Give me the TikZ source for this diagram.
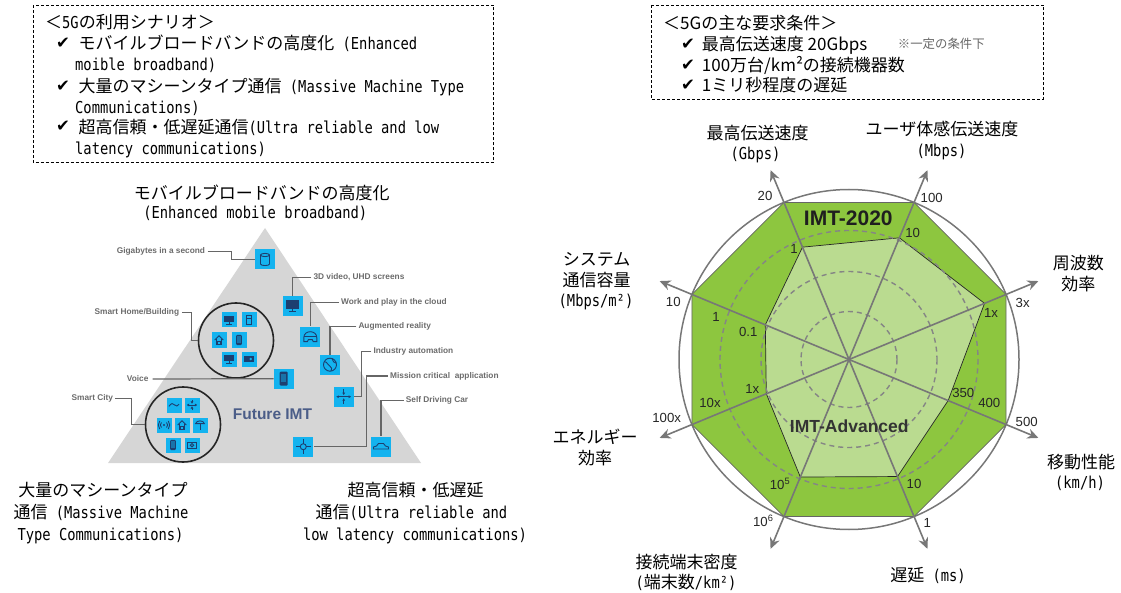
\documentclass[tikz,border=0pt]{standalone}
\usepackage{fontspec}
\setmainfont{Liberation Sans}
\newfontfamily\jpf{Noto Sans CJK JP}
\newfontfamily\monof[FakeStretch=0.84]{DejaVu Sans Mono}
\newfontfamily\symf{DejaVu Sans}
\usetikzlibrary{arrows.meta,calc}
\definecolor{gA}{HTML}{8DC63F}
\definecolor{gB}{HTML}{BADB90}
\definecolor{axg}{HTML}{777777}
\definecolor{cy}{HTML}{14B3EF}
\definecolor{nv}{HTML}{1D3F70}
\definecolor{tri}{HTML}{D6D6D6}
\definecolor{lblg}{HTML}{6B6B6B}
\definecolor{fimt}{HTML}{4B5D88}
\newcommand\JA{\jpf\fontsize{17}{20}\selectfont}
\newcommand\ML[1]{{\monof\fontsize{16.4}{20}\selectfont #1}}
\newcommand\CK{{\symf\fontsize{16.5}{20}\selectfont ✔}}
% icon glyphs
\newcommand\gDB{\draw[gl] (0,-4.5) ellipse[x radius=4.5,y radius=1.6]; \draw[gl] (-4.5,-4.5) -- (-4.5,4.5) .. controls (-4.5,6.6) and (4.5,6.6) .. (4.5,4.5) -- (4.5,-4.5);}
\newcommand\gMon{\fill[nv] (-6.5,-5.5) rectangle (6.5,3); \draw[gl] (0,3) -- (0,5.5) (-3.5,5.5) -- (3.5,5.5);}
\newcommand\gHelm{\draw[gl] (-6.5,5) -- (-6.5,1) .. controls (-6.5,-7) and (6.5,-7) .. (6.5,1) -- (6.5,5) -- (3,5) -- (2,3) -- (-2,3) -- (-3,5) -- cycle; \draw[gl] (-6.5,0) -- (6.5,0);}
\newcommand\gGlobe{\draw[gl] (0,0) circle[radius=6.5]; \draw[gl] (-5.5,-3) .. controls (-2,-3) and (-3,1) .. (0,1.5) .. controls (2,2) and (2,5) .. (1,6.3); \draw[gl] (2,-6) .. controls (2,-3) and (5,-2) .. (6.3,-1.5);}
\newcommand\gInd{\draw[gl,{Latex[length=2.5pt,width=3pt]}-{Latex[length=2.5pt,width=3pt]}] (-7.5,0) -- (7.5,0); \draw[gl,-{Latex[length=2.5pt,width=3pt]}] (0,-7.5) -- (0,-1.5); \draw[gl,-{Latex[length=2.5pt,width=3pt]}] (0,7.5) -- (0,1.5);}
\newcommand\gCross{\draw[gl] (0,0) circle[radius=3]; \draw[gl] (-7.5,0) -- (-3,0) (3,0) -- (7.5,0) (0,-7.5) -- (0,-3) (0,3) -- (0,7.5);}
\newcommand\gCar{\draw[gl] (-7.5,2.5) -- (-7.5,0.5) -- (-4.5,-0.5) -- (-2.5,-3) -- (2.5,-3) -- (4.5,-0.5) -- (7.5,0.5) -- (7.5,2.5) -- cycle;}
\newcommand\gPhone{\fill[nv,rounded corners=1pt] (-4,-7) rectangle (4,7); \fill[cy!45!nv] (-2.6,-5) rectangle (2.6,3.5);}
\newcommand\gFridge{\draw[gl] (-4,-6.5) rectangle (4,6.5); \draw[gl] (-4,-1.5) -- (4,-1.5);}
\newcommand\gHouse{\draw[gl] (-6,0) -- (0,-6) -- (6,0); \draw[gl] (-4,-1.5) -- (-4,5.5) -- (4,5.5) -- (4,-1.5); \draw[gl] (-1.5,5.5) -- (-1.5,1.5) -- (1.5,1.5) -- (1.5,5.5);}
\newcommand\gCard{\fill[nv] (-6.5,-4.5) rectangle (6.5,4.5); \fill[cy] (2.5,0) circle[radius=2];}
\newcommand\gWave{\draw[gl] (-7,2) .. controls (-4,-3) and (-1,-3) .. (1,0) .. controls (3,3) and (5,1) .. (7,-1);}
\newcommand\gRadio{\fill[nv] (0,0) circle[radius=1.6]; \draw[gl] (-3.5,-3.5) .. controls (-5.5,-1) and (-5.5,1) .. (-3.5,3.5); \draw[gl] (3.5,-3.5) .. controls (5.5,-1) and (5.5,1) .. (3.5,3.5); \draw[gl] (-6,-5.5) .. controls (-8.5,-2) and (-8.5,2) .. (-6,5.5); \draw[gl] (6,-5.5) .. controls (8.5,-2) and (8.5,2) .. (6,5.5);}
\newcommand\gLamp{\draw[gl] (0,-2) -- (0,7); \draw[gl] (-6,-2) .. controls (-5,-7) and (5,-7) .. (6,-2) -- cycle;}
\newcommand\gCam{\draw[gl] (-6,-4) rectangle (6,4.5); \draw[gl] (0,0.3) circle[radius=2.3];}
\newcommand\ico[3]{\begin{scope}[shift={(#1)},scale=#2]#3\end{scope}}
\begin{document}
\begin{tikzpicture}[x=1pt,y=-1pt,
  jt/.style={inner sep=0pt,font=\JA,text height=15pt,text depth=2pt},
  ck/.style={inner sep=0pt},
  dbox/.style={draw=black,line width=0.9pt,dash pattern=on 3pt off 2pt},
  note/.style={inner sep=0pt,text=black!60,font=\jpf\fontsize{12.4}{14}\selectfont},
  num/.style={inner sep=0pt,text=black!85,font=\fontsize{13.2}{14}\selectfont},
  axisarr/.style={draw=axg,line width=1.6pt,-{Stealth[length=11pt,width=10pt]}},
  dring/.style={draw=axg!90,line width=1.4pt,dash pattern=on 5pt off 4pt},
  icon/.style={fill=cy,minimum size=20pt,inner sep=0pt},
  sicon/.style={fill=cy,minimum size=15pt,inner sep=0pt},
  gl/.style={draw=nv,line width=0.9pt},
  lead/.style={draw=black!60,line width=1.2pt},
  ltxt/.style={inner sep=0pt,text=lblg,font=\bfseries\fontsize{8.3}{9}\selectfont},
  grp/.style={circle,draw=black!85,line width=1.6pt,minimum size=75pt,inner sep=0pt}
]
\useasboundingbox (0,0) rectangle (1121,593);
% ---------------- top boxes ----------------
\draw[dbox] (33.3,5) rectangle (493.3,162.7);
\node[jt,anchor=west] (s0) at (45,21.7) {＜\ML{5G}の利用シナリオ＞};
\node[ck] (c1) at (63,43.3) {\CK};
\node[jt,anchor=west] (s1) at (78.3,43.3) {モバイルブロードバンドの高度化\ML{ (Enhanced}};
\node[jt,anchor=west] (s2) at (75,64) {\ML{moible broadband)}};
\node[ck] (c2) at (63,86) {\CK};
\node[jt,anchor=west] (s3) at (78.3,86) {大量のマシーンタイプ通信\ML{ (Massive Machine Type}};
\node[jt,anchor=west] (s4) at (75,106.7) {\ML{Communications)}};
\node[ck] (c3) at (63,126.7) {\CK};
\node[jt,anchor=west] (s5) at (78.3,126.7) {超高信頼・低遅延通信\ML{(Ultra reliable and low}};
\node[jt,anchor=west] (s6) at (75,147.7) {\ML{latency communications)}};

\draw[dbox] (651.7,5) rectangle (1043.3,99.3);
\node[jt,anchor=west] (r0) at (663,22.7) {＜5Gの主な要求条件＞};
\node[ck] (rc1) at (688,44.3) {\CK};
\node[jt,anchor=west] (r1) at (701.7,44.3) {最高伝送速度 20Gbps};
\node[note] (r1n) at (941.3,44.3) {※一定の条件下};
\node[ck] (rc2) at (688,65) {\CK};
\node[jt,anchor=west] (r2) at (701.7,65) {100万台/km²の接続機器数};
\node[ck] (rc3) at (688,85) {\CK};
\node[jt,anchor=west] (r3) at (701.7,85) {1ミリ秒程度の遅延};

% ---------------- triangle ----------------
\node[jt] (tt1) at (261.7,192.7) {モバイルブロードバンドの高度化};
\node[jt] (tt2) at (255.3,211.7) {\ML{(Enhanced mobile broadband)}};
\fill[tri] (265,228) -- (421,463) -- (108,463) -- cycle;
\node[inner sep=0pt,text=fimt,font=\bfseries\fontsize{15.5}{16}\selectfont] (fimt) at (272.5,414.3) {Future IMT};

\node[grp] (hc) at (236,340.5) {};
\node[grp] (cc) at (183,424.5) {};

\node[icon] (igb) at (265,259.5) {};
\node[icon] (i3d) at (292.5,306) {};
\node[icon] (iwp) at (310.3,336.7) {};
\node[icon] (iar) at (330,364.7) {};
\node[icon] (iia) at (343.7,396.7) {};
\node[icon] (imc) at (303.3,446.7) {};
\node[icon] (isd) at (381,446.5) {};
\node[icon] (ivo) at (283.7,378.7) {};
\ico{igb}{1}{\gDB}
\ico{i3d}{1}{\gMon}
\ico{iwp}{1}{\gHelm}
\ico{iar}{1}{\gGlobe}
\ico{iia}{1}{\gInd}
\ico{imc}{1}{\gCross}
\ico{isd}{1}{\gCar}
\ico{ivo}{1}{\gPhone}

\node[sicon] (h1) at (229,320) {};
\node[sicon] (h2) at (249,320) {};
\node[sicon] (h3) at (219,340) {};
\node[sicon] (h4) at (239,340) {};
\node[sicon] (h5) at (229,359) {};
\node[sicon] (h6) at (249,359) {};
\ico{h1}{0.72}{\gMon}
\ico{h2}{0.72}{\gFridge}
\ico{h3}{0.72}{\gHouse}
\ico{h4}{0.72}{\gPhone}
\ico{h5}{0.72}{\gMon}
\ico{h6}{0.72}{\gCard}

\node[sicon] (k1) at (174,405) {};
\node[sicon] (k2) at (192,405) {};
\node[sicon] (k3) at (164,425) {};
\node[sicon] (k4) at (182,425) {};
\node[sicon] (k5) at (200,425) {};
\node[sicon] (k6) at (173,445) {};
\node[sicon] (k7) at (192,445) {};
\ico{k1}{0.72}{\gWave}
\ico{k2}{0.72}{\gInd}
\ico{k3}{0.72}{\gRadio}
\ico{k4}{0.72}{\gHouse}
\ico{k5}{0.72}{\gLamp}
\ico{k6}{0.72}{\gPhone}
\ico{k7}{0.72}{\gCam}

\node[ltxt,anchor=west] (lgb) at (116.7,251.7) {Gigabytes in a second};
\node[ltxt,anchor=west] (l3d) at (313.3,277.3) {3D video, UHD screens};
\node[ltxt,anchor=west] (lwp) at (341,302.3) {Work and play in the cloud};
\node[ltxt,anchor=west] (lar) at (358.3,326.7) {Augmented reality};
\node[ltxt,anchor=west] (lia) at (373.3,351.7) {Industry automation};
\node[ltxt,anchor=west] (lmc) at (390,376) {Mission critical\ \ application};
\node[ltxt,anchor=west] (lsd) at (405.7,400.7) {Self Driving Car};
\node[ltxt,anchor=east] (lsh) at (179.3,312.3) {Smart Home/Building};
\node[ltxt,anchor=west] (lvo) at (126.7,379) {Voice};
\node[ltxt,anchor=east] (lsc) at (113.3,398.3) {Smart City};

\draw[lead,shorten <=2.5pt] (lgb.east) -- ++(26,0) |- (igb.west);
\draw[lead,shorten <=2pt] (l3d.west) -| (i3d.north);
\draw[lead,shorten <=2pt] (lwp.west) -| (iwp.north);
\draw[lead,shorten <=2pt] (lar.west) -| (iar.north);
\draw[lead,shorten <=2pt] (lia.west) -- ++(-11.6,0) |- (iia.east);
\draw[lead,shorten <=2pt] (lmc.west) -- ++(-23.3,0) |- (imc.east);
\draw[lead,shorten <=2pt] (lsd.west) -| (isd.north);
\draw[lead,shorten <=2.5pt] (lsh.east) -- ++(12.4,0) |- (hc.west);
\draw[lead,shorten <=4pt] (lvo.east) -- (ivo.west);
\draw[lead,shorten <=2pt] (lsc.east) -- ++(18,0) |- (cc.west);

\node[jt] (bl1) at (103,489.5) {大量のマシーンタイプ};
\node[jt] (bl2) at (101,511.8) {通信\ML{ (Massive Machine}};
\node[jt] (bl3) at (100.5,534) {\ML{Type Communications)}};
\node[jt] (br1) at (415.5,489.5) {超高信頼・低遅延};
\node[jt] (br2) at (411.5,511.8) {通信\ML{(Ultra reliable and}};
\node[jt] (br3) at (415,534) {\ML{low latency communications)}};

% ---------------- radar ----------------
\coordinate (C) at (849,359.5);
\foreach \a [count=\i] in {-112.5,-67.5,-22.5,22.5,67.5,112.5,157.5,202.5}{
  \coordinate (o\i) at ($(C)+(\a:170)$);
  \coordinate (t\i) at ($(C)+(\a:205)$);
}
\foreach \a/\r [count=\i] in {-112.5/121.6,-67.5/131.7,-22.5/146.7,22.5/107.3,67.5/126.7,112.5/127.2,157.5/89.5,202.5/90.6}{
  \coordinate (n\i) at ($(C)+(\a:\r)$);
}
\draw[draw=axg,line width=1.5pt] (C) circle[radius=170];
\filldraw[fill=gA,draw=black!60,line width=0.8pt] (o1) -- (o2) -- (o3) -- (o4) -- (o5) -- (o6) -- (o7) -- (o8) -- cycle;
\filldraw[fill=gB,draw=black!85,line width=0.7pt] (n1) -- (n2) -- (n3) -- (n4) -- (n5) -- (n6) -- (n7) -- (n8) -- cycle;
\draw[dring] (C) circle[radius=48];
\draw[dring] (C) circle[radius=88];
\draw[dring] (C) circle[radius=129];
\foreach \i in {1,...,8}{ \draw[axisarr] (C) -- (t\i); }

\node[inner sep=0pt,text=black!88,font=\bfseries\fontsize{21}{22}\selectfont] (imtA) at (848.3,218.3) {IMT-2020};
\node[inner sep=0pt,text=black!80,font=\bfseries\fontsize{17.5}{18}\selectfont] (imtB) at (849.3,426.7) {IMT-Advanced};

\node[num] (v1) at (765,196) {20};
\node[num] (v2) at (931.7,198.3) {100};
\node[num] (v3) at (794,249.3) {1};
\node[num] (v4) at (912.7,232.7) {10};
\node[num] (v5) at (1022.7,302.7) {3x};
\node[num] (v6) at (991,313.3) {1x};
\node[num] (v7) at (673.3,301.7) {10};
\node[num] (v8) at (716,317.3) {1};
\node[num] (v9) at (748.3,332.3) {0.1};
\node[num] (v10) at (752.3,389.3) {1x};
\node[num] (v11) at (710,403.3) {10x};
\node[num] (v12) at (666.7,418.3) {100x};
\node[num] (v13) at (963.3,392.7) {350};
\node[num] (v14) at (989.3,403.3) {400};
\node[num] (v15) at (1026.7,421.7) {500};
\node[num] (v16) at (780,484) {10\textsuperscript{5}};
\node[num] (v17) at (914,484) {10};
\node[num] (v18) at (763.3,521) {10\textsuperscript{6}};
\node[num] (v19) at (927.3,523.3) {1};

\node[jt] (a1) at (757.7,133.3) {最高伝送速度};
\node[jt] (a1b) at (755.5,152.7) {\ML{(Gbps)}};
\node[jt] (a2) at (942,129.3) {ユーザ体感伝送速度};
\node[jt] (a2b) at (941.5,150) {\ML{(Mbps)}};
\node[jt] (a3) at (1078.3,263.3) {周波数};
\node[jt] (a3b) at (1078.3,284) {効率};
\node[jt] (a4) at (1081,461.7) {移動性能};
\node[jt] (a4b) at (1080,481.7) {\ML{(km/h)}};
\node[jt] (a5) at (928,575) {遅延\ML{ (ms)}};
\node[jt] (a6) at (686.7,561.7) {接続端末密度};
\node[jt] (a6b) at (686,582.3) {\ML{(}端末数\ML{/km²)}};
\node[jt] (a7) at (595,437.3) {エネルギー};
\node[jt] (a7b) at (595,458) {効率};
\node[jt] (a8) at (596.7,259.3) {システム};
\node[jt] (a8b) at (596.7,280) {通信容量};
\node[jt] (a8c) at (596,300) {\ML{(Mbps/m²)}};
\end{tikzpicture}
\end{document}
